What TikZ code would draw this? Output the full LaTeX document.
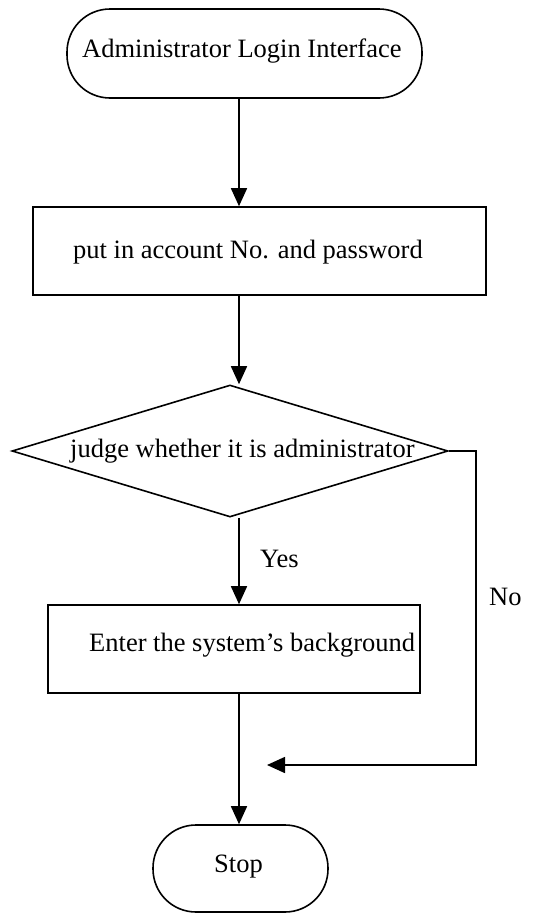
\documentclass[tikz,border=0pt]{standalone}
\usepackage{fontspec}
\setmainfont{Liberation Serif}
\usetikzlibrary{arrows.meta,shapes.geometric}
\begin{document}
\begin{tikzpicture}[x=1pt,y=-1pt,
  shapeline/.style={draw=black,line width=1.6pt},
  term/.style={shapeline,rectangle,rounded corners=43pt,inner sep=0pt},
  procbox/.style={shapeline,rectangle,inner sep=0pt},
  decis/.style={shapeline,diamond,inner sep=0pt},
  txt/.style={inner sep=0pt,anchor=base west,font=\fontsize{26.5}{30}\selectfont},
  arr/.style={line width=1.6pt,-{Triangle[width=16pt,length=18pt]}}]
\useasboundingbox (0,0) rectangle (549,913);
% shapes
\node[term,minimum width=355pt,minimum height=89pt] (start) at (244.5,53.5) {};
\node[procbox,minimum width=453pt,minimum height=88pt] (box1) at (259.5,251) {};
\node[decis,minimum width=436pt,minimum height=132pt] (dia) at (230,451) {};
\node[procbox,minimum width=372pt,minimum height=88pt] (box2) at (234,649) {};
\node[term,minimum width=175pt,minimum height=87pt] (stop) at (240.5,868.5) {};
% texts
\node[txt] (t1) at (82,57) {Administrator Login Interface};
\node[txt] (t2) at (73,258) {put in account No. and password};
\node[txt] (t3) at (70,457) {judge whether it is administrator};
\node[txt] (t4) at (89,651) {Enter the system’s background};
\node[txt] (t5) at (214,872) {Stop};
\node[txt] (yes) at (260,567) {Yes};
\node[txt] (no) at (489,605) {No};
% connectors
\coordinate (ax) at (239,0);
\coordinate (nc) at (476,765);
\coordinate (nend) at (267,765);
\draw[arr] (start.south -| ax) -- (box1.north -| ax);
\draw[arr] (box1.south -| ax) -- (dia.north -| ax);
\draw[arr] (dia.south -| ax) -- (box2.north -| ax);
\draw[arr] (box2.south -| ax) -- (stop.north -| ax);
\draw[arr] (dia.east) -| (nc) -- (nend);
\end{tikzpicture}
\end{document}
